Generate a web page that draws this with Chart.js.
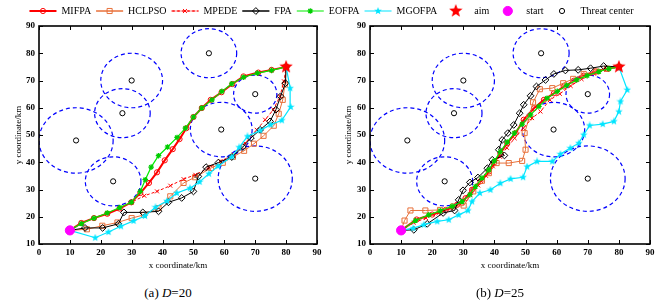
<!DOCTYPE html>
<html>
<head>
<meta charset="utf-8">
<script src="https://cdn.jsdelivr.net/npm/chart.js@4.4.1/dist/chart.umd.min.js"></script>
<style>
  body { margin: 0; background: #fff; }
  #wrap { position: relative; width: 663px; height: 302px; overflow: hidden; }
  #c1 { position: absolute; left: 0; top: 0; }
  #c2 { position: absolute; left: 330px; top: 0; }
  .cap { position: absolute; top: 285px; font: 13px 'Liberation Serif', serif; text-align: center; line-height: 16px; color: #000; }
</style>
</head>
<body>
<div id="wrap">
  <canvas id="c1" width="663" height="275"></canvas>
  <canvas id="c2" width="333" height="275"></canvas>
  <div class="cap" style="left:0;width:336px">(a) <i>D</i>=20</div>
  <div class="cap" style="left:334px;width:332px">(b) <i>D</i>=25</div>
</div>
<script>
// threat areas (same in both maps)
const threatX = [55, 30, 27, 12, 24, 70, 59, 70];
const threatY = [80, 70, 58, 48, 33, 65, 52, 34];
const threatR = [9, 10, 9, 12, 9, 7, 10, 12];
const startPt = [10, 15];
const aimPt = [80, 75];

const seriesNames = ['MIFPA', 'HCLPSO', 'MPEDE', 'FPA', 'EOFPA', 'MGOFPA'];

// (a) D=20
const mifpa20 = [[10,15],[13.7,17.7],[17.8,19.5],[22.1,21.1],[26.1,23],[29.9,25.3],[32.8,28.7],[35.6,32.4],[38.2,36.3],[40.7,40.7],[43.3,44.8],[45.5,48.5],[47.7,52.5],[50,56.6],[52.7,59.9],[55.6,62.9],[59.1,65.7],[62.6,68.7],[66.2,71.5],[71,72.9],[75.3,73.9],[80,75]];
const hclpso20 = [[10,15],[15.5,15.4],[20.5,16.7],[25.4,17.9],[30,19.5],[34,20.7],[38.7,23.2],[42.5,27.5],[46.8,32.4],[50.5,34.5],[55.7,37.9],[59.5,39.8],[62.8,42],[66.4,44.2],[69.6,46.8],[72.7,49.7],[76,53.4],[77.6,57.8],[78.9,62.9],[79.6,68.5],[80,75]];
const mpede20 = [[10,15],[13.7,17.7],[17.8,19.5],[22.1,21.1],[26.1,23],[29.9,25.3],[34.1,27.7],[38.2,29.3],[42.5,31.4],[46.8,33.8],[50.6,35.4],[54.9,37.9],[58.7,40.3],[63,42.8],[66.7,47],[70.5,51.9],[73.2,55.6],[75.9,59.3],[78,64.2],[79.3,69.7],[80,75]];
const fpa20 = [[10,15],[14.9,15.9],[20.6,15.9],[25.7,17.4],[27.5,21.6],[33.6,21.6],[38.7,22],[41.9,25.3],[46.2,26.9],[50,29.3],[51.6,34.8],[54.1,38.2],[58.1,39.9],[62.4,41.9],[66,45.6],[68.6,48.9],[71.6,51.9],[74.8,55],[76.7,59.3],[78.2,64.2],[79.8,69],[80,75]];
const eofpa20 = [[10,15],[13.7,17.5],[17.8,19.5],[22.1,21.4],[26.1,23.4],[29.9,25.3],[32.8,29.3],[34.4,33.6],[36.3,38.2],[38.7,42.4],[41.6,45.6],[44.7,49.1],[47.4,52.5],[50,56.6],[52.7,59.9],[56,62.9],[59.2,66],[62.4,68.8],[66.2,71.2],[70.7,72.7],[75.3,73.7],[80,75]];
const mgofpa20 = [[10,15],[18.2,12.3],[22.5,14.4],[26.5,16.5],[30.6,18.5],[34.3,20.3],[37.7,23.5],[41.4,25.8],[44.6,28.7],[48.9,30.5],[52,32.8],[55,35.8],[58,38.6],[62.4,42],[64.8,45.5],[67.5,49.5],[71.6,51.7],[75,53.8],[78.6,55.4],[81.5,60.3],[81.3,67.2],[80,75]];

// (b) D=25
const mifpa25 = [[10,15],[15,19],[20,20.8],[24.3,22.5],[28,24.4],[30.7,26.8],[32.8,29.9],[35.5,33],[38.2,36.6],[39.8,39.7],[41.9,43.3],[44.1,47],[46.8,50.7],[49.4,55.6],[52.7,59.8],[55.9,62.9],[59.1,65.3],[62.3,67.8],[65.5,69.9],[68.7,71.8],[72.5,73.3],[76.2,74.3],[80,75]];
const hclpso25 = [[10,15],[11.1,18.6],[13,22.3],[17.8,22.3],[22.5,22.5],[26.8,23.8],[30.1,24.1],[33.2,29.3],[36,33.2],[38.2,36],[40.7,39.7],[44.6,39.7],[48.9,40.5],[50,44.6],[49.7,50.7],[51.2,56.5],[52.4,62],[54.6,66.8],[58.6,67.2],[62.1,69],[65.3,70.6],[68.7,72.4],[72.8,73.3],[76.2,74.3],[80,75]];
const mpede25 = [[10,15],[14,17.8],[18,19.5],[22,21.3],[26,23],[29.5,25],[32.3,28],[34.8,31.5],[37.3,35],[39.5,38.5],[41.8,42],[44,45.3],[46.5,48.8],[49.3,52.5],[52.1,56.2],[54.8,58.6],[57.8,62.9],[61,65.1],[64.5,68],[68,70.5],[72,72.5],[76,74],[80,75]];
const fpa25 = [[10,15],[14.1,15.2],[18.4,17.4],[23.5,21.4],[27.2,22.3],[28.5,26.2],[29.9,29.7],[32.1,32.6],[34.7,34.4],[37.7,37.8],[39.3,40.9],[43.2,42.5],[41.4,44.6],[42.5,48.2],[44.3,50.7],[46.2,53.7],[48.1,58],[49.4,61.1],[51.6,64.4],[53.5,67.8],[56.4,70.2],[59.1,72.4],[62.8,73.7],[66.9,73.9],[70.9,74.5],[75.1,75.3],[80,75]];
const eofpa25 = [[10,15],[14.6,18.6],[18.9,20.7],[22.6,22.2],[26.4,23.8],[29.6,25.6],[32.1,28.1],[33.9,31.1],[36,34.2],[38.2,37.2],[40,40.5],[41.9,43.9],[44.1,47.4],[46.4,50.7],[48.9,54],[51.6,57.4],[54.3,60.5],[56.9,63.5],[60.2,66],[63.2,68.2],[66.4,70.2],[69.8,71.8],[73.6,73.3],[76.8,74.3],[80,75]];
const mgofpa25 = [[10,15],[13.9,15.8],[17.3,17.1],[21.6,18.3],[25.3,18.9],[28.5,20.7],[31.5,22.3],[32.8,25.6],[35.3,28.7],[38.7,29.9],[41.9,32.3],[45.2,33.9],[49.2,34.5],[50.5,38.4],[53.7,40.3],[58.6,40.3],[61.2,43],[64.4,45.2],[67.1,47],[68.7,50.1],[70.6,53.5],[74.8,54],[78.4,55],[80,58.6],[80.5,62.3],[82.7,66.6],[80,75]];

const serif = "'Liberation Serif', 'Times New Roman', serif";
const none = 'rgba(0,0,0,0)';

function starCanvas(size, color) {
  const c = document.createElement('canvas');
  c.width = c.height = size;
  const g = c.getContext('2d');
  const r = size / 2, ri = r * 0.42;
  g.beginPath();
  for (let i = 0; i < 10; i++) {
    const a = -Math.PI / 2 + i * Math.PI / 5;
    const rr = i % 2 ? ri : r;
    g.lineTo(r + rr * Math.cos(a), r + rr * Math.sin(a));
  }
  g.closePath();
  g.fillStyle = color;
  g.fill();
  return c;
}
const aimStar = starCanvas(14, '#ff0000');
const cyanStar = starCanvas(8, '#00e5ff');

const styles = [
  {borderColor: '#ff0000', borderWidth: 2, pointStyle: 'circle', pointRadius: 2.6, pointBorderColor: '#ff0000', pointBackgroundColor: none, pointBorderWidth: 1, order: 10},
  {borderColor: '#e8703a', borderWidth: 1, pointStyle: 'rect', pointRadius: 3.6, pointBorderColor: '#e8703a', pointBackgroundColor: none, pointBorderWidth: 1, order: 9},
  {borderColor: '#ff0000', borderWidth: 1, borderDash: [3, 2], pointStyle: 'crossRot', pointRadius: 2.8, pointBorderColor: '#ff0000', pointBackgroundColor: none, pointBorderWidth: 1, order: 8},
  {borderColor: '#000000', borderWidth: 1, pointStyle: 'rectRot', pointRadius: 3.4, pointBorderColor: '#000000', pointBackgroundColor: none, pointBorderWidth: 1, order: 7},
  {borderColor: '#00ee00', borderWidth: 1.2, pointStyle: 'star', pointRadius: 2.8, pointBorderColor: '#00cc00', pointBackgroundColor: '#00cc00', pointBorderWidth: 1.2, order: 6},
  {borderColor: '#00e5ff', borderWidth: 1.2, pointStyle: cyanStar, pointRadius: 4, pointBorderColor: '#00e5ff', pointBackgroundColor: '#00e5ff', pointBorderWidth: 1, order: 5}
];

const pts = a => a.map(p => ({x: p[0], y: p[1]}));

function makeSets(paths) {
  const sets = paths.map((p, i) => Object.assign({
    label: seriesNames[i], data: pts(p), showLine: true, fill: false, tension: 0
  }, styles[i]));
  sets.push({label: 'aim', data: pts([aimPt]), showLine: false, pointStyle: aimStar, pointRadius: 7,
    borderColor: '#ff0000', pointBorderColor: '#ff0000', pointBackgroundColor: '#ff0000', pointBorderWidth: 0, borderWidth: 0, order: 2});
  sets.push({label: 'start', data: pts([startPt]), showLine: false, pointStyle: 'circle', pointRadius: 4.6,
    borderColor: '#ff00ff', pointBorderColor: '#ff00ff', pointBackgroundColor: '#ff00ff', pointBorderWidth: 1, borderWidth: 0, order: 1});
  sets.push({label: 'Threat center', data: threatX.map((x, i) => ({x: x, y: threatY[i]})), showLine: false,
    pointStyle: 'circle', pointRadius: 2.6, borderColor: '#000', pointBorderColor: '#000', pointBackgroundColor: none,
    pointBorderWidth: 1, borderWidth: 0, order: 3});
  return sets;
}

// dashed threat circles, box frame and inward ticks
const mapDeco = {
  id: 'mapDeco',
  beforeDatasetsDraw(chart) {
    const {ctx, chartArea: ca, scales: {x, y}} = chart;
    ctx.save();
    ctx.beginPath();
    ctx.rect(ca.left, ca.top, ca.right - ca.left, ca.bottom - ca.top);
    ctx.clip();
    ctx.strokeStyle = '#0000ff';
    ctx.lineWidth = 1.2;
    ctx.setLineDash([4, 3]);
    threatX.forEach((cx, i) => {
      const px = x.getPixelForValue(cx), py = y.getPixelForValue(threatY[i]);
      const rx = Math.abs(x.getPixelForValue(cx + threatR[i]) - px);
      const ry = Math.abs(y.getPixelForValue(threatY[i] + threatR[i]) - py);
      ctx.beginPath();
      ctx.ellipse(px, py, rx, ry, 0, 0, Math.PI * 2);
      ctx.stroke();
    });
    ctx.restore();
  },
  afterDatasetsDraw(chart) {
    const {ctx, chartArea: ca, scales: {x, y}} = chart;
    ctx.save();
    ctx.strokeStyle = '#000';
    ctx.setLineDash([]);
    ctx.lineWidth = 1;
    ctx.beginPath();
    x.ticks.forEach(t => {
      const px = Math.round(x.getPixelForValue(t.value)) + 0.5;
      ctx.moveTo(px, ca.bottom); ctx.lineTo(px, ca.bottom - 4);
      ctx.moveTo(px, ca.top); ctx.lineTo(px, ca.top + 4);
    });
    y.ticks.forEach(t => {
      const py = Math.round(y.getPixelForValue(t.value)) + 0.5;
      ctx.moveTo(ca.left, py); ctx.lineTo(ca.left + 4, py);
      ctx.moveTo(ca.right, py); ctx.lineTo(ca.right - 4, py);
    });
    ctx.stroke();
    ctx.lineWidth = 1.6;
    ctx.strokeRect(ca.left, ca.top, ca.right - ca.left, ca.bottom - ca.top);
    ctx.restore();
  }
};

// markers on top of the legend lines
const legendMarks = {
  id: 'legendMarks',
  afterDraw(chart) {
    const lg = chart.legend;
    if (!lg || !lg.legendHitBoxes) return;
    const ctx = chart.ctx;
    lg.legendItems.forEach((item, i) => {
      const hb = lg.legendHitBoxes[i];
      const ds = chart.data.datasets[item.datasetIndex];
      const cx = hb.left + 27 / 2, cy = hb.top + hb.height / 2;
      ctx.save();
      ctx.setLineDash([]);
      ctx.fillStyle = ds.pointBackgroundColor;
      ctx.strokeStyle = ds.pointBorderColor;
      ctx.lineWidth = ds.pointBorderWidth;
      Chart.helpers.drawPoint(ctx, {pointStyle: ds.pointStyle, radius: ds.pointRadius, borderWidth: ds.pointBorderWidth, rotation: 0}, cx, cy);
      ctx.restore();
    });
  }
};

function scalesFor(yWidth, extra) {
  const s = {
    x: {
      type: 'linear', min: 0, max: 90,
      ticks: {stepSize: 10, color: '#000', padding: 3, maxRotation: 0, font: {family: serif, size: 9, weight: 'bold'}},
      grid: {display: false, drawTicks: false},
      border: {display: false},
      title: {display: true, text: 'x coordinate/km', color: '#000', font: {family: serif, size: 9}, padding: {top: 0, bottom: 4}},
      afterFit: sc => { sc.height = 31; }
    },
    y: {
      type: 'linear', min: 10, max: 90,
      ticks: {stepSize: 10, color: '#000', padding: 4, font: {family: serif, size: 9, weight: 'bold'}},
      grid: {display: false, drawTicks: false},
      border: {display: false},
      title: {display: true, text: 'y coordinate/km', color: '#000', font: {family: serif, size: 9}, padding: {top: 13, bottom: 0}},
      afterFit: sc => { sc.width = yWidth; }
    }
  };
  return Object.assign(s, extra || {});
}

new Chart(document.getElementById('c1'), {
  type: 'scatter',
  data: {datasets: makeSets([mifpa20, hclpso20, mpede20, fpa20, eofpa20, mgofpa20])},
  options: {
    responsive: false, animation: false, events: [],
    layout: {padding: {top: 1}},
    scales: scalesFor(39, {
      yPad: {
        type: 'linear', position: 'right', display: true,
        grid: {display: false, drawTicks: false}, border: {display: false}, ticks: {display: false},
        afterFit: sc => { sc.width = 346; }
      }
    }),
    plugins: {
      tooltip: {enabled: false},
      legend: {
        position: 'top',
        labels: {
          boxWidth: 27, boxHeight: 0, padding: 5, color: '#000',
          font: {family: serif, size: 10},
          sort: (a, b) => a.datasetIndex - b.datasetIndex,
          generateLabels: chart => chart.data.datasets.map((ds, i) => ({
            text: ds.label, datasetIndex: i, hidden: false, fontColor: '#000',
            fillStyle: none, strokeStyle: ds.borderColor,
            lineWidth: ds.showLine === false ? 0 : ds.borderWidth,
            lineDash: ds.borderDash || []
          }))
        }
      }
    }
  },
  plugins: [mapDeco, legendMarks]
});

new Chart(document.getElementById('c2'), {
  type: 'scatter',
  data: {datasets: makeSets([mifpa25, hclpso25, mpede25, fpa25, eofpa25, mgofpa25])},
  options: {
    responsive: false, animation: false, events: [],
    layout: {padding: {top: 26, right: 13}},
    scales: scalesFor(40),
    plugins: {tooltip: {enabled: false}, legend: {display: false}}
  },
  plugins: [mapDeco]
});
</script>
</body>
</html>
